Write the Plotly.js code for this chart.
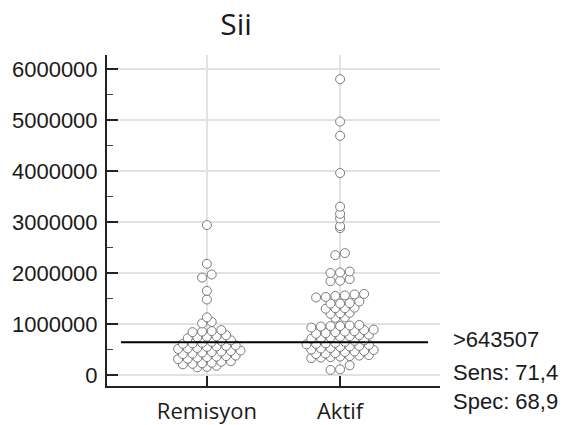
<!DOCTYPE html>
<html>
<head>
<meta charset="utf-8">
<script src="https://cdn.plot.ly/plotly-3.0.1.min.js"></script>
<style>html,body{margin:0;padding:0;background:#fff;}#chart{width:571px;height:425px;}</style>
</head>
<body>
<div id="chart"></div>
<script>
// Categories and tick labels
const categories = ["Remisyon", "Aktif"];
const yTickVals = [0, 1000000, 2000000, 3000000, 4000000, 5000000, 6000000];
const yTickText = ["0", "1000000", "2000000", "3000000", "4000000", "5000000", "6000000"];

// Series values
const remisyon = [
  150000, 160000, 180000,
  210000, 220000, 230000, 240000, 260000, 270000,
  310000, 320000, 340000, 350000, 360000, 370000, 380000,
  410000, 420000, 440000, 450000, 460000, 470000, 480000,
  510000, 520000, 530000, 550000, 560000, 570000, 580000,
  610000, 620000, 630000, 650000, 670000, 680000,
  720000, 740000, 750000, 760000, 780000,
  840000, 850000, 860000, 880000,
  1010000, 1040000, 1130000, 1480000, 1650000, 1910000, 1970000, 2180000, 2940000
];
const aktif = [
  100000, 110000, 190000,
  330000, 340000, 350000, 360000, 370000, 380000, 390000,
  410000, 420000, 430000, 450000, 460000, 470000, 490000,
  500000, 520000, 530000, 550000, 560000, 570000, 590000,
  600000, 610000, 620000, 630000, 650000, 670000, 680000,
  710000, 720000, 740000, 750000, 760000, 780000, 790000,
  810000, 820000, 840000, 850000, 860000, 880000, 890000,
  930000, 950000, 960000, 960000, 970000, 980000,
  1120000, 1130000, 1200000, 1210000, 1220000,
  1300000, 1310000, 1310000, 1320000, 1400000, 1400000, 1410000, 1440000,
  1520000, 1530000, 1550000, 1560000, 1580000, 1590000,
  1840000, 1850000, 1880000, 2000000, 2010000, 2030000, 2350000, 2390000,
  2880000, 2920000, 3070000, 3160000, 3300000, 3960000, 4690000, 4970000, 5800000
];
const cutoff = 643507;
const notes = [">643507", "Sens: 71,4", "Spec: 68,9"];

// Layout geometry
const M = {l: 107, r: 131, t: 55, b: 39};
const PW = 571 - M.l - M.r, PH = 425 - M.t - M.b;
const xRange = [-0.75, 1.75];
const yRange = [-216000, 6275000];
const pxPerX = PW / (xRange[1] - xRange[0]);

// Dot-diagram layout: values binned into rows, each row spread sideways
function dotOffsets(vals, center, binW, s) {
  const bins = {};
  vals.forEach((v, i) => { const k = Math.floor(v / binW + 1e-9); (bins[k] = bins[k] || []).push(i); });
  const keys = Object.keys(bins).map(Number).sort((a, b) => a - b);
  const xs = new Array(vals.length);
  const info = {};
  let dir = 1;
  keys.forEach(k => {
    const ids = bins[k].sort((a, b) => vals[a] - vals[b]);
    const n = ids.length;
    let shift = 0;
    const prev = info[k - 1];
    const phase = (n % 2 === 0 ? s / 2 : 0);
    if (prev && n >= 2 && prev.n >= 2 && Math.abs(((phase - prev.phase) % s + s) % s) < 1e-6) {
      shift = dir * s / 2; dir = -dir;
    }
    info[k] = {n: n, phase: ((phase + shift) % s + s) % s};
    ids.forEach((id, j) => { xs[id] = center + ((j - (n - 1) / 2) * s + shift) / pxPerX; });
  });
  return xs;
}

const BIN = 100000, SP = 9.6;
const marker = {symbol: "circle", size: 9, color: "#ffffff", line: {color: "#7a7a7a", width: 1}};
const traces = [
  {type: "scatter", mode: "markers", x: dotOffsets(remisyon, 0, BIN, SP), y: remisyon, marker: marker, hoverinfo: "y", showlegend: false, cliponaxis: false},
  {type: "scatter", mode: "markers", x: dotOffsets(aktif, 1, BIN, SP), y: aktif, marker: marker, hoverinfo: "y", showlegend: false, cliponaxis: false}
];

const noteY = [0.139, 0.042, -0.048];
const layout = {
  width: 571, height: 425,
  margin: M,
  paper_bgcolor: "#ffffff", plot_bgcolor: "#ffffff",
  showlegend: false,
  title: {text: "Sii", font: {family: "Open Sans, sans-serif", size: 30, color: "#1a1a1a"},
          xref: "container", x: 236 / 571, xanchor: "center", yref: "container", y: 1 - 24 / 425, yanchor: "middle"},
  xaxis: {
    range: xRange, tickmode: "array", tickvals: [0, 1], ticktext: categories,
    showgrid: true, gridcolor: "#e2e2e2", gridwidth: 2, zeroline: false,
    showline: true, linecolor: "#222222", linewidth: 2,
    ticks: "inside", ticklen: 10, tickwidth: 2, tickcolor: "#222222",
    tickfont: {family: "Open Sans, sans-serif", size: 22, color: "#1a1a1a"},
    ticklabelstandoff: 5
  },
  yaxis: {
    range: yRange, tickmode: "array", tickvals: yTickVals, ticktext: yTickText,
    showgrid: true, gridcolor: "#e2e2e2", gridwidth: 2, zeroline: false,
    showline: true, linecolor: "#222222", linewidth: 2,
    ticks: "inside", ticklen: 11, tickwidth: 2, tickcolor: "#222222",
    minor: {tickmode: "linear", tick0: 500000, dtick: 1000000, ticks: "inside", ticklen: 6, tickwidth: 1, tickcolor: "#444444", showgrid: false},
    tickfont: {family: "Liberation Sans, Arial, sans-serif", size: 22, color: "#1a1a1a"},
    ticklabelstandoff: 3
  },
  shapes: [
    {type: "line", xref: "x", yref: "y", x0: -0.645, x1: 1.66, y0: cutoff, y1: cutoff, line: {color: "#000000", width: 2}}
  ],
  annotations: notes.map((t, i) => ({
    text: t, xref: "paper", yref: "paper", x: 1.033, y: noteY[i], xanchor: "left", yanchor: "middle",
    showarrow: false, font: {family: "Liberation Sans, Arial, sans-serif", size: 22, color: "#1a1a1a"}
  }))
};

Plotly.newPlot("chart", traces, layout, {displayModeBar: false, staticPlot: true});
</script>
</body>
</html>
